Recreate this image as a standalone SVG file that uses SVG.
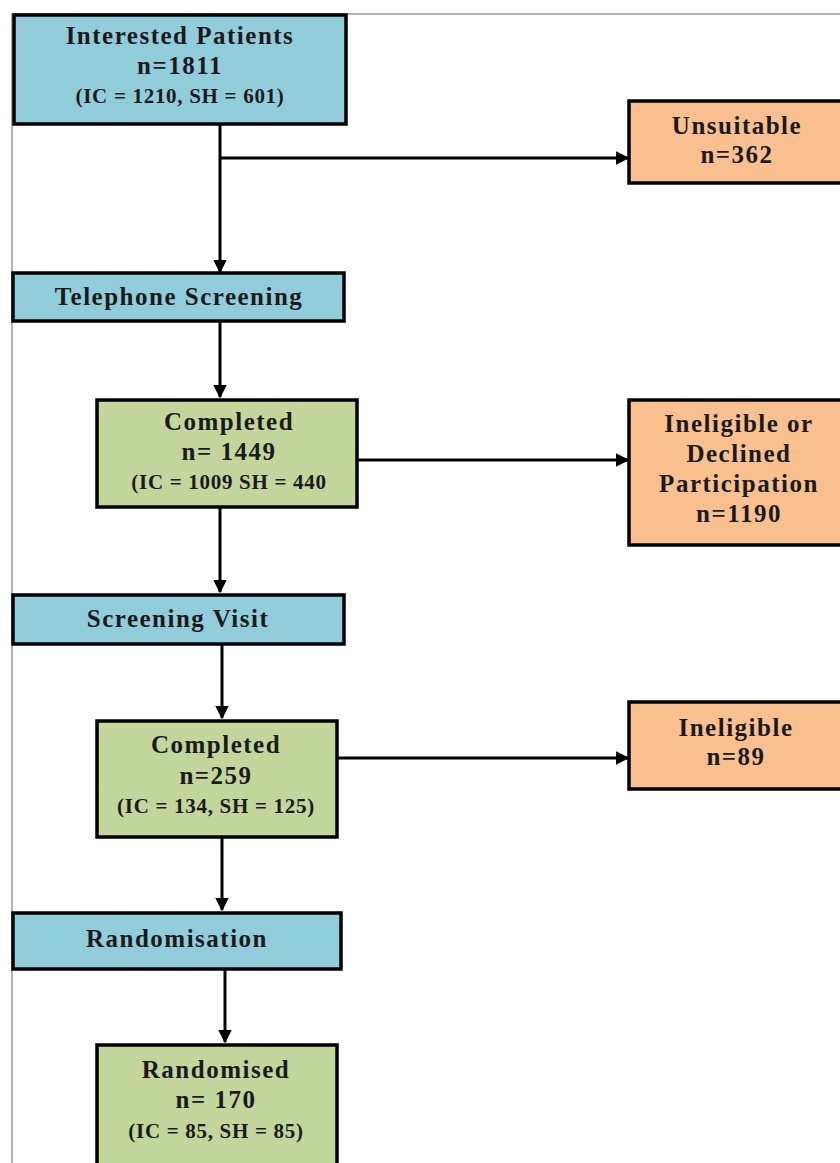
<svg xmlns="http://www.w3.org/2000/svg" width="840" height="1163" viewBox="0 0 840 1163">
<defs>
<marker id="arr" viewBox="0 0 10 10" refX="9" refY="5" markerWidth="4.5" markerHeight="4.5" orient="auto" markerUnits="strokeWidth">
<path d="M0,0 L10,5 L0,10 z" fill="#000"/>
</marker>
<style>
.frame{fill:none;stroke:#999;stroke-width:1.5}
.box{stroke:#000;stroke-width:3.5}
.blue{fill:#92CDDC}
.green{fill:#C3D69B}
.orange{fill:#FAC090}
.t{font-family:"Liberation Serif",serif;font-weight:bold;font-size:25px;letter-spacing:1.5px;fill:#1a1a1a;text-anchor:middle}
.s{font-size:21px;letter-spacing:0.7px}
.c{fill:none;stroke:#000;stroke-width:3;marker-end:url(#arr)}
</style>
</defs>
<path class="frame" d="M12,1163 V14 H840"/>
<g id="connectors">
<path class="c" d="M220,125 V272"/>
<path class="c" d="M220,158 H628"/>
<path class="c" d="M220,322 V397"/>
<path class="c" d="M358,460 H628"/>
<path class="c" d="M220,508 V592"/>
<path class="c" d="M222,645 V718"/>
<path class="c" d="M338,758 H628"/>
<path class="c" d="M222,838 V910"/>
<path class="c" d="M225,970 V1042"/>
</g>
<g id="interested">
<rect class="box blue" x="14" y="15" width="332" height="109"/>
<text class="t" x="180" y="44">Interested Patients</text>
<text class="t" x="180" y="74">n=1811</text>
<text class="t s" x="180" y="103">(IC = 1210, SH = 601)</text>
</g>
<g id="unsuitable">
<rect class="box orange" x="629" y="101" width="215" height="82"/>
<text class="t" x="737" y="134">Unsuitable</text>
<text class="t" x="737" y="163">n=362</text>
</g>
<g id="telephone">
<rect class="box blue" x="13" y="273" width="331" height="48"/>
<text class="t" x="179" y="305">Telephone Screening</text>
</g>
<g id="completed1">
<rect class="box green" x="97" y="400" width="260" height="107"/>
<text class="t" x="229" y="430">Completed</text>
<text class="t" x="229" y="460">n= 1449</text>
<text class="t s" x="229" y="489">(IC = 1009 SH = 440</text>
</g>
<g id="declined">
<rect class="box orange" x="629" y="400" width="215" height="145"/>
<text class="t" x="739" y="432">Ineligible or</text>
<text class="t" x="739" y="462">Declined</text>
<text class="t" x="739" y="492">Participation</text>
<text class="t" x="739" y="522">n=1190</text>
</g>
<g id="visit">
<rect class="box blue" x="13" y="595" width="331" height="49"/>
<text class="t" x="178" y="627">Screening Visit</text>
</g>
<g id="completed2">
<rect class="box green" x="97" y="721" width="240" height="116"/>
<text class="t" x="216" y="753">Completed</text>
<text class="t" x="216" y="784">n=259</text>
<text class="t s" x="216" y="813">(IC = 134, SH = 125)</text>
</g>
<g id="ineligible">
<rect class="box orange" x="629" y="702" width="215" height="87"/>
<text class="t" x="736" y="736">Ineligible</text>
<text class="t" x="736" y="765">n=89</text>
</g>
<g id="randomisation">
<rect class="box blue" x="13" y="913" width="328" height="56"/>
<text class="t" x="177" y="947">Randomisation</text>
</g>
<g id="randomised">
<rect class="box green" x="97" y="1045" width="240" height="130"/>
<text class="t" x="216" y="1078">Randomised</text>
<text class="t" x="216" y="1108">n= 170</text>
<text class="t s" x="216" y="1138">(IC = 85, SH = 85)</text>
</g>
</svg>
